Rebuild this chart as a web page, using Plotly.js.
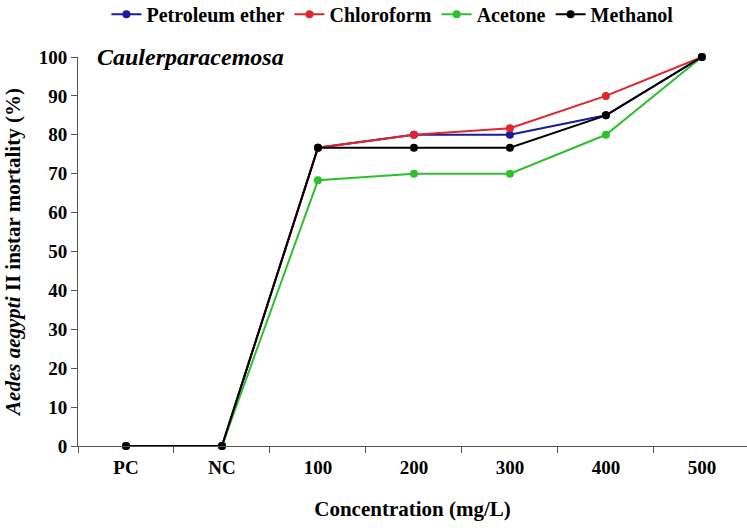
<!DOCTYPE html>
<html><head><meta charset="utf-8">
<script src="https://cdn.plot.ly/plotly-3.0.1.min.js"></script>
<style>html,body{margin:0;padding:0;background:#fff}</style>
</head><body>
<div id="chart" style="width:747px;height:528px"></div>
<script>
const categories = ["PC", "NC", "100", "200", "300", "400", "500"];
const petroleumEther = [0, 0, 76.7, 80, 80, 85, 100];
const chloroform = [0, 0, 76.7, 80, 81.7, 90, 100];
const acetone = [0, 0, 68.3, 70, 70, 80, 100];
const methanol = [0, 0, 76.7, 76.7, 76.7, 85, 100];
const seriesNames = ["Petroleum ether", "Chloroform", "Acetone", "Methanol"];
const yTicks = [0, 10, 20, 30, 40, 50, 60, 70, 80, 90, 100];

const colors = ["#1a1a9c", "#e0262b", "#2ec02e", "#000000"];
const allSeries = [petroleumEther, chloroform, acetone, methanol];
const font = "'Liberation Serif', 'Times New Roman', serif";

const traces = allSeries.map((vals, i) => ({
  x: categories, y: vals, name: "<b>" + seriesNames[i] + "</b>", type: "scatter", mode: "lines+markers",
  line: {color: colors[i], width: 2}, marker: {color: colors[i], size: 8},
  cliponaxis: false
}));

const layout = {
  width: 747, height: 528,
  margin: {l: 78, r: 0, t: 57, b: 82, autoexpand: false},
  paper_bgcolor: "#fff", plot_bgcolor: "#fff",
  font: {family: font, size: 16, color: "#000"},
  showlegend: true,
  legend: {orientation: "h", x: 0.47, xanchor: "center", y: 1.11, yanchor: "middle",
    font: {family: font, size: 20, color: "#000"}, traceorder: "normal",
    itemwidth: 30, tracegroupgap: 0, bgcolor: "rgba(0,0,0,0)"},
  xaxis: {type: "category", range: [-0.5, 6.47], showline: true, linecolor: "#555", linewidth: 1,
    ticks: "outside", ticklen: 6, tickcolor: "#555", tickson: "boundaries",
    showgrid: false, zeroline: false, ticklabelstandoff: 4,
    tickfont: {family: font, size: 19, weight: "bold"},
    title: {text: "Concentration (mg/L)", font: {family: font, size: 21, weight: "bold"}, standoff: 24}},
  yaxis: {range: [0, 100], tickvals: yTicks, showline: true, linecolor: "#555", linewidth: 1,
    ticks: "outside", ticklen: 6, tickcolor: "#555", showgrid: false, zeroline: false,
    tickfont: {family: font, size: 19, weight: "bold"},
    title: {text: "<i>Aedes aegypti</i> II instar mortality (%)", font: {family: font, size: 21, weight: "bold"}, standoff: 12}},
  annotations: [{text: "<b><i>Caulerparacemosa</i></b>", xref: "paper", yref: "paper", x: 0.025, y: 1.0,
    xanchor: "left", yanchor: "middle", showarrow: false, font: {family: font, size: 24, color: "#000"}}]
};
Plotly.newPlot("chart", traces, layout, {displayModeBar: false});
</script>
</body></html>
